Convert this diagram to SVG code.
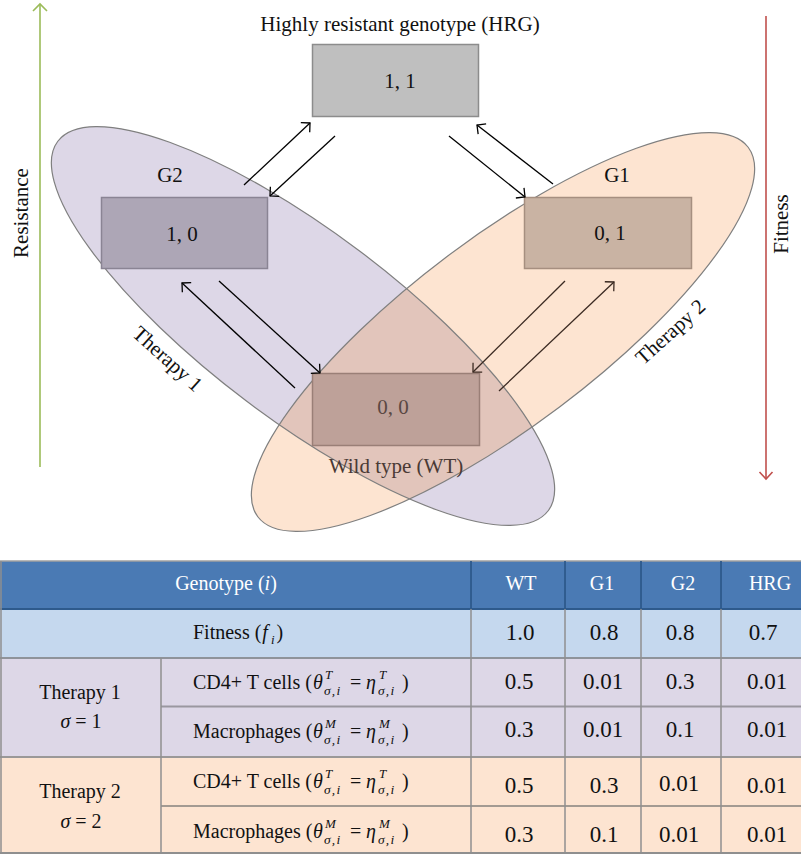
<svg xmlns="http://www.w3.org/2000/svg" width="801" height="855" viewBox="0 0 801 855">
<style>
  text { font-family: "Liberation Serif", "Times New Roman", serif; fill: #111; }
  .t20 { font-size: 20px; }
  .t21 { font-size: 21px; }
  .num { font-size: 23px; text-anchor: middle; }
  .hd { font-size: 20px; fill: #ffffff; text-anchor: middle; }
  .mid { text-anchor: middle; }
  .it { font-style: italic; }
  .sc { font-size: 13px; font-style: italic; }
  .sb { font-size: 13.5px; font-style: italic; letter-spacing: 1.2px; }
  .ell { stroke: #7f7f7f; stroke-width: 1.2; }
  .conn { stroke: #000; stroke-width: 1.3; fill: none; marker-end: url(#ah); }
  .connb { stroke: #3b2a22; stroke-width: 1.3; fill: none; marker-end: url(#ahb); }
  .box { stroke-width: 1.5; }
  .vl { stroke: #8f8f8f; stroke-width: 1.5; }
</style>
<defs>
  <marker id="ah" viewBox="-10 -10 20 20" markerWidth="20" markerHeight="20" markerUnits="userSpaceOnUse" refX="0" refY="0" orient="auto">
    <path d="M-6.5,-6.5 L0,0 L-6.5,6.5" fill="none" stroke="#000" stroke-width="1.3"/>
  </marker>
  <marker id="ahb" viewBox="-10 -10 20 20" markerWidth="20" markerHeight="20" markerUnits="userSpaceOnUse" refX="0" refY="0" orient="auto">
    <path d="M-6.5,-6.5 L0,0 L-6.5,6.5" fill="none" stroke="#3b2a22" stroke-width="1.3"/>
  </marker>
  <clipPath id="clipT1">
    <ellipse cx="303" cy="326" rx="307" ry="94" transform="rotate(37 303 326)"/>
  </clipPath>
</defs>

<!-- axes -->
<g id="axis-resistance">
  <line x1="40" y1="5" x2="40" y2="467" stroke="#9bbb59" stroke-width="1.6"/>
  <path d="M33,11 L40,4 L47,11" fill="none" stroke="#9bbb59" stroke-width="1.6"/>
  <text class="t21 mid" transform="translate(28 213) rotate(-90)">Resistance</text>
</g>
<g id="axis-fitness">
  <line x1="766" y1="16" x2="766" y2="478" stroke="#c0504d" stroke-width="1.6"/>
  <path d="M759.5,472 L766,479 L772.5,472" fill="none" stroke="#c0504d" stroke-width="1.6"/>
  <text class="t21 mid" transform="translate(788 224) rotate(-90)">Fitness</text>
</g>

<!-- therapy ellipses -->
<g id="therapy1">
  <ellipse cx="303" cy="326" rx="307" ry="94" transform="rotate(37 303 326)" fill="#ddd7e7"/>
</g>
<g id="therapy2">
  <ellipse cx="503" cy="332" rx="307" ry="94" transform="rotate(-37 503 332)" fill="#fde4d1"/>
  <g clip-path="url(#clipT1)">
    <ellipse cx="503" cy="332" rx="307" ry="94" transform="rotate(-37 503 332)" fill="#e2c5bb"/>
  </g>
</g>
<g id="ellipse-outlines">
  <ellipse class="ell" cx="303" cy="326" rx="307" ry="94" transform="rotate(37 303 326)" fill="none"/>
  <ellipse class="ell" cx="503" cy="332" rx="307" ry="94" transform="rotate(-37 503 332)" fill="none"/>
  <text class="t21 mid" transform="translate(163 364) rotate(42)">Therapy 1</text>
  <text class="t21 mid" transform="translate(675 337) rotate(-42)">Therapy 2</text>
</g>

<!-- nodes -->
<g id="node-hrg">
  <text class="t21 mid" x="400" y="31">Highly resistant genotype (HRG)</text>
  <rect class="box" x="312.5" y="44.5" width="166" height="72" fill="#bfbfbf" stroke="#8c8c8c"/>
  <text class="t21 mid" x="400" y="88">1, 1</text>
</g>
<g id="node-g2">
  <text class="t21 mid" x="170" y="182">G2</text>
  <rect class="box" x="101.5" y="197.5" width="166" height="71" fill="#ada6b6" stroke="#8a8494"/>
  <text class="t21 mid" x="182" y="241">1, 0</text>
</g>
<g id="node-g1">
  <text class="t21 mid" x="617" y="182">G1</text>
  <rect class="box" x="524.5" y="197.5" width="167" height="71" fill="#c9b3a3" stroke="#a68f80"/>
  <text class="t21 mid" x="610" y="240">0, 1</text>
</g>
<g id="node-wt">
  <rect class="box" x="312.5" y="373.5" width="167" height="72" fill="#bea199" stroke="#9a7f77"/>
  <text class="t21 mid" x="393" y="414" style="fill:#5a4843">0, 0</text>
  <text class="t21 mid" x="396" y="473" style="fill:#4a3a35">Wild type (WT)</text>
</g>

<!-- connectors -->
<g id="connectors">
  <line class="conn" x1="244" y1="185" x2="310" y2="123"/>
  <line class="conn" x1="335" y1="136" x2="270" y2="196"/>
  <line class="conn" x1="449" y1="136" x2="525" y2="197"/>
  <line class="conn" x1="553" y1="184" x2="477" y2="125"/>
  <line class="conn" x1="295" y1="388" x2="182" y2="283"/>
  <line class="conn" x1="219" y1="281" x2="320" y2="373"/>
  <line class="connb" x1="565" y1="281" x2="473" y2="372"/>
  <line class="connb" x1="499" y1="391" x2="614" y2="282"/>
</g>

<!-- table -->
<g id="table">
  <rect x="0" y="561" width="801" height="48" fill="#4a7ab4"/>
  <rect x="0" y="609" width="801" height="49" fill="#c5d8ee"/>
  <rect x="0" y="658" width="801" height="99" fill="#ddd7e7"/>
  <rect x="0" y="757" width="801" height="97" fill="#fde4d1"/>
  <line x1="0" y1="561" x2="801" y2="561" stroke="#a0a0a0" stroke-width="1.5"/>
  <line x1="0" y1="609" x2="801" y2="609" stroke="#2e5a8c" stroke-width="2"/>
  <line x1="0" y1="658" x2="801" y2="658" stroke="#8f939a" stroke-width="2"/>
  <line x1="161" y1="706.5" x2="801" y2="706.5" stroke="#9a97a0" stroke-width="2"/>
  <line x1="0" y1="757" x2="801" y2="757" stroke="#9a9898" stroke-width="2"/>
  <line x1="161" y1="806" x2="801" y2="806" stroke="#a39a92" stroke-width="2"/>
  <line x1="0" y1="853" x2="801" y2="853" stroke="#8f8f8f" stroke-width="2"/>
  <line x1="1" y1="561" x2="1" y2="853" stroke="#8f8f8f" stroke-width="1.5"/>
  <line class="vl" x1="161" y1="658" x2="161" y2="853"/>
  <g stroke="#2e5a8c" stroke-width="1.8">
    <line x1="471" y1="561" x2="471" y2="609"/>
    <line x1="565" y1="561" x2="565" y2="609"/>
    <line x1="641" y1="561" x2="641" y2="609"/>
    <line x1="721" y1="561" x2="721" y2="609"/>
  </g>
  <g class="vl">
    <line x1="471" y1="609" x2="471" y2="853"/>
    <line x1="565" y1="609" x2="565" y2="853"/>
    <line x1="641" y1="609" x2="641" y2="853"/>
    <line x1="721" y1="609" x2="721" y2="853"/>
  </g>

  <text class="hd" x="226" y="590">Genotype (<tspan class="it" style="fill:#fff">i</tspan>)</text>
  <text class="hd" x="521" y="590">WT</text>
  <text class="hd" x="602" y="590">G1</text>
  <text class="hd" x="683" y="590">G2</text>
  <text class="hd" x="770" y="590">HRG</text>

  <text class="t20" x="193" y="639">Fitness (<tspan class="it" dx="1">f</tspan><tspan class="sc" dx="3" dy="5">i</tspan><tspan dx="2" dy="-5">)</tspan></text>
  <text class="num" x="520" y="640">1.0</text>
  <text class="num" x="604" y="640">0.8</text>
  <text class="num" x="680" y="640">0.8</text>
  <text class="num" x="763" y="640">0.7</text>

  <text class="t20 mid" x="80" y="699">Therapy 1</text>
  <text class="t20 mid" x="81" y="728"><tspan class="it">σ</tspan> = 1</text>
  <text class="t20 mid" x="80" y="798">Therapy 2</text>
  <text class="t20 mid" x="81" y="828"><tspan class="it">σ</tspan> = 2</text>

  <text class="t20" y="689"><tspan x="193">CD4+ T cells (</tspan><tspan class="it" x="313">θ</tspan><tspan class="sc" x="325" y="679">T</tspan><tspan class="sb" x="324" y="695">σ,i</tspan><tspan x="350" y="689">=</tspan><tspan class="it" x="366">η</tspan><tspan class="sc" x="379" y="679">T</tspan><tspan class="sb" x="378" y="695">σ,i</tspan><tspan x="402" y="689">)</tspan></text>
  <text class="t20" y="738"><tspan x="193">Macrophages (</tspan><tspan class="it" x="313">θ</tspan><tspan class="sc" x="325" y="728">M</tspan><tspan class="sb" x="324" y="744">σ,i</tspan><tspan x="350" y="738">=</tspan><tspan class="it" x="366">η</tspan><tspan class="sc" x="379" y="728">M</tspan><tspan class="sb" x="378" y="744">σ,i</tspan><tspan x="402" y="738">)</tspan></text>
  <text class="t20" y="788"><tspan x="193">CD4+ T cells (</tspan><tspan class="it" x="313">θ</tspan><tspan class="sc" x="325" y="778">T</tspan><tspan class="sb" x="324" y="794">σ,i</tspan><tspan x="350" y="788">=</tspan><tspan class="it" x="366">η</tspan><tspan class="sc" x="379" y="778">T</tspan><tspan class="sb" x="378" y="794">σ,i</tspan><tspan x="402" y="788">)</tspan></text>
  <text class="t20" y="838"><tspan x="193">Macrophages (</tspan><tspan class="it" x="313">θ</tspan><tspan class="sc" x="325" y="828">M</tspan><tspan class="sb" x="324" y="844">σ,i</tspan><tspan x="350" y="838">=</tspan><tspan class="it" x="366">η</tspan><tspan class="sc" x="379" y="828">M</tspan><tspan class="sb" x="378" y="844">σ,i</tspan><tspan x="402" y="838">)</tspan></text>

  <text class="num" x="519" y="689">0.5</text>
  <text class="num" x="603" y="689">0.01</text>
  <text class="num" x="680" y="689">0.3</text>
  <text class="num" x="767" y="689">0.01</text>

  <text class="num" x="519" y="737">0.3</text>
  <text class="num" x="603" y="737">0.01</text>
  <text class="num" x="680" y="737">0.1</text>
  <text class="num" x="767" y="737">0.01</text>

  <text class="num" x="519" y="793">0.5</text>
  <text class="num" x="604" y="793">0.3</text>
  <text class="num" x="679" y="791">0.01</text>
  <text class="num" x="767" y="793">0.01</text>

  <text class="num" x="519" y="842">0.3</text>
  <text class="num" x="604" y="842">0.1</text>
  <text class="num" x="679" y="842">0.01</text>
  <text class="num" x="767" y="842">0.01</text>
</g>
</svg>
